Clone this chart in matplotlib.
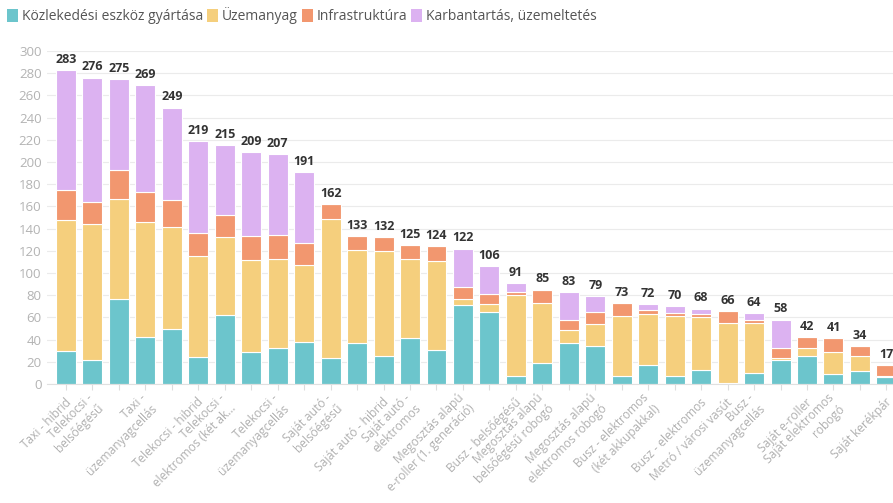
import matplotlib
matplotlib.use("Agg")
import matplotlib.pyplot as plt
import matplotlib.transforms as mtransforms
from matplotlib.patches import Patch
import numpy as np

plt.rcParams['font.family'] = ['Open Sans', 'DejaVu Sans']

series_names = ["Közlekedési eszköz gyártása", "Üzemanyag", "Infrastruktúra",
                "Karbantartás, üzemeltetés"]
colors = ["#6cc5cc", "#f5cf7d", "#f2976f", "#dcb2f1"]

# only the labels that fit are shown, the rest stay empty
tick_labels = [
    "Taxi - hibrid", "Telekocsi -\nbelsőégésű", "", "Taxi -\nüzemanyagcellás", "",
    "Telekocsi - hibrid", "Telekocsi -\nelektromos (két ak…", "",
    "Telekocsi -\nüzemanyagcellás", "", "Saját autó -\nbelsőégésű", "",
    "Saját autó - hibrid", "Saját autó -\nelektromos", "",
    "Megosztás alapú\ne-roller (1. generáció)", "", "Busz - belsőégésű",
    "Megosztás alapú\nbelsőégésű robogó", "", "Megosztás alapú\nelektromos robogó", "",
    "Busz - elektromos\n(két akkupakkal)", "", "Busz - elektromos",
    "Metró / városi vasút", "Busz -\nüzemanyagcellás", "", "Saját e-roller",
    "Saját elektromos\nrobogó", "", "Saját kerékpár",
]

gyartas = [30, 22, 77, 42, 50, 24, 62, 29, 32, 38, 23, 37, 25, 41, 31, 71,
           65, 7, 19, 37, 34, 7, 17, 7, 13, 1, 10, 22, 25, 9, 12, 6]
uzemanyag = [118, 122, 90, 104, 91, 91, 70, 83, 81, 69, 126, 84, 95, 72, 80, 6,
             7, 73, 54, 12, 20, 54, 46, 54, 47, 54, 45, 1, 7, 20, 13, 1]
infra = [27, 20, 26, 27, 25, 21, 20, 21, 21, 20, 13, 12, 12, 12, 13, 10,
         9, 3, 12, 9, 11, 12, 4, 3, 3, 11, 3, 9, 10, 12, 9, 10]
karbantartas = [108, 112, 82, 96, 83, 83, 63, 76, 73, 64, 0, 0, 0, 0, 0, 35,
                25, 8, 0, 25, 14, 0, 5, 6, 5, 0, 6, 26, 0, 0, 0, 0]

data = [gyartas, uzemanyag, infra, karbantartas]
x = np.arange(len(tick_labels))

fig = plt.figure(figsize=(8.93, 5.03), dpi=100)
ax = fig.add_axes([47 / 893, 119 / 503, 846 / 893, 333 / 503])

bottom = np.zeros(len(x))
for vals, col, name in zip(data, colors, series_names):
    vals = np.array(vals, dtype=float)
    ax.bar(x, vals, width=0.755, bottom=bottom, color=col, edgecolor="white",
           linewidth=0.8, label=name, zorder=2)
    bottom += vals

for xi, tot in zip(x, bottom):
    ax.annotate(f"{int(tot)}", (xi, tot), xytext=(0, 3), textcoords="offset points",
                ha="center", va="bottom", fontsize=9, fontweight="bold",
                color="#333333", annotation_clip=False)

ax.set_xlim(-0.718, 31.25)
ax.set_ylim(0, 300)
ax.set_yticks(np.arange(0, 301, 20))
ax.yaxis.grid(True, color="#ebebeb", linewidth=0.8, zorder=0)
ax.set_axisbelow(True)
for s in ["top", "right", "left"]:
    ax.spines[s].set_visible(False)
ax.spines["bottom"].set_color("#e0e0e0")
ax.spines["bottom"].set_linewidth(0.8)

ax.tick_params(axis="y", length=0, pad=4, labelsize=9.5, labelcolor="#b3b3b3")
ax.tick_params(axis="x", length=4, width=0.8, color="#dddddd", pad=7,
               labelsize=8.6, labelcolor="#b0b0b0")

ax.set_xticks(x)
ax.set_xticklabels(tick_labels, rotation=45, ha="right", va="center_baseline",
                   rotation_mode="anchor", multialignment="right", linespacing=1.25)
shift = mtransforms.ScaledTranslation(2 / 100, 0, fig.dpi_scale_trans)
for lbl in ax.get_xticklabels():
    lbl.set_transform(lbl.get_transform() + shift)

handles = [Patch(facecolor=c, edgecolor="none") for c in colors]
fig.legend(handles, series_names, loc="upper left", bbox_to_anchor=(7 / 893, 1 - 7 / 503),
           ncol=4, frameon=False, fontsize=10.0, handlelength=0.8, handleheight=1.1,
           handletextpad=0.25, columnspacing=0.3, borderpad=0, borderaxespad=0,
           labelcolor="#555555")

fig.savefig("out.png", dpi=100)
